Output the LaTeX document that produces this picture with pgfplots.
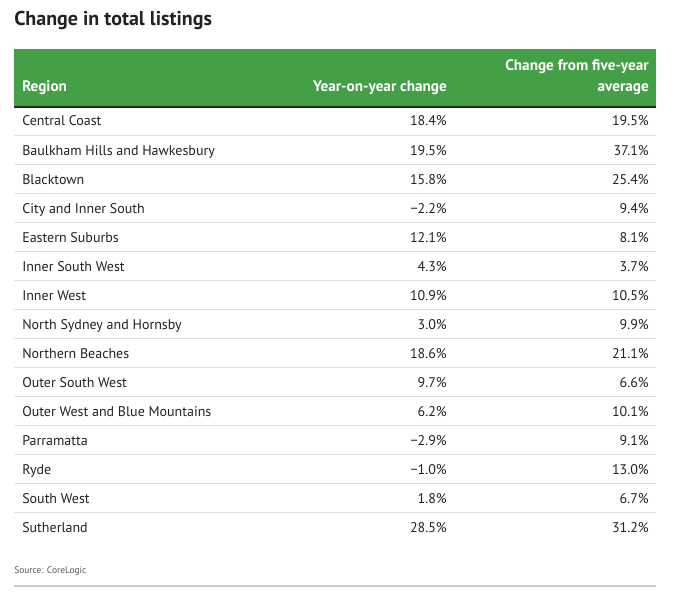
\documentclass[border=0pt]{standalone}
\usepackage{pgfplots}
\pgfplotsset{compat=1.18}
\usepackage{pgfplotstable}
\usepackage{fontspec}
\setmainfont{PT Sans}
\definecolor{hdrgreen}{RGB}{67,160,71}
\definecolor{txt}{RGB}{34,34,34}
\definecolor{sepgray}{RGB}{224,224,224}
\definecolor{srcgray}{RGB}{85,85,85}
\definecolor{botgray}{RGB}{204,204,204}

\pgfplotstableread[col sep=comma]{
y,region,yoy,five
126,Central Coast,18.4,19.5
155,Baulkham Hills and Hawkesbury,19.5,37.1
184,Blacktown,15.8,25.4
213,City and Inner South,−2.2,9.4
242,Eastern Suburbs,12.1,8.1
271,Inner South West,4.3,3.7
300,Inner West,10.9,10.5
329,North Sydney and Hornsby,3.0,9.9
358,Northern Beaches,18.6,21.1
387,Outer South West,9.7,6.6
416,Outer West and Blue Mountains,6.2,10.1
445,Parramatta,−2.9,9.1
474,Ryde,−1.0,13.0
503,South West,1.8,6.7
532,Sutherland,28.5,31.2
}\listings

\begin{document}
\begin{tikzpicture}
\begin{axis}[
  x=0.75pt, y=0.75pt, y dir=reverse,
  xmin=0, xmax=675, ymin=0, ymax=592,
  hide axis, clip=false,
  axis line style={draw=none},
]
% bounding box
\path (axis cs:0,0) rectangle (axis cs:675,592);
% title
\node[anchor=base west, inner sep=0pt, font=\fontsize{15}{18}\selectfont\bfseries, text=txt] at (axis cs:14,26) {Change in total listings};
% header
\fill[hdrgreen] (axis cs:14,49) rectangle (axis cs:656,106);
\fill[black!85] (axis cs:14,106) rectangle (axis cs:656,108);
\node[anchor=base west, inner sep=0pt, font=\fontsize{11.4}{13}\selectfont\bfseries, text=white] at (axis cs:22,92) {Region};
\node[anchor=base east, inner sep=0pt, font=\fontsize{11.4}{13}\selectfont\bfseries, text=white] at (axis cs:447,92) {Year-on-year change};
\node[anchor=base east, inner sep=0pt, font=\fontsize{11.4}{13}\selectfont\bfseries, text=white] at (axis cs:649,71) {Change from five-year};
\node[anchor=base east, inner sep=0pt, font=\fontsize{11.4}{13}\selectfont\bfseries, text=white] at (axis cs:649,92) {average};
% separators
\pgfplotsinvokeforeach{0,...,13}{
  \draw[sepgray, line width=0.75pt] (axis cs:14,{135.5+29*#1}) -- (axis cs:656,{135.5+29*#1});
}
% bottom line
\draw[botgray, line width=1.5pt] (axis cs:14,586) -- (axis cs:656,586);
% source
\node[anchor=base west, inner sep=0pt, font=\fontsize{7.1}{9}\selectfont, text=srcgray] at (axis cs:14,573) {Source: CoreLogic};
% data
\addplot[txt, only marks, mark=*, mark size=0pt, mark options={draw=none,fill=none},
  point meta=explicit symbolic,
  nodes near coords={\pgfplotspointmeta},
  nodes near coords style={anchor=base west, inner sep=0pt, font=\fontsize{10.5}{12}\selectfont, text=txt}]
  table[x expr=22, y=y, meta=region] {\listings};
\addplot[txt, only marks, mark=*, mark size=0pt, mark options={draw=none,fill=none},
  point meta=explicit symbolic,
  nodes near coords={\pgfplotspointmeta\%},
  nodes near coords style={anchor=base east, inner sep=0pt, font=\fontsize{10.5}{12}\selectfont, text=txt}]
  table[x expr=447, y=y, meta=yoy] {\listings};
\addplot[txt, only marks, mark=*, mark size=0pt, mark options={draw=none,fill=none},
  point meta=explicit symbolic,
  nodes near coords={\pgfplotspointmeta\%},
  nodes near coords style={anchor=base east, inner sep=0pt, font=\fontsize{10.5}{12}\selectfont, text=txt}]
  table[x expr=649, y=y, meta=five] {\listings};
\end{axis}
\end{tikzpicture}
\end{document}
